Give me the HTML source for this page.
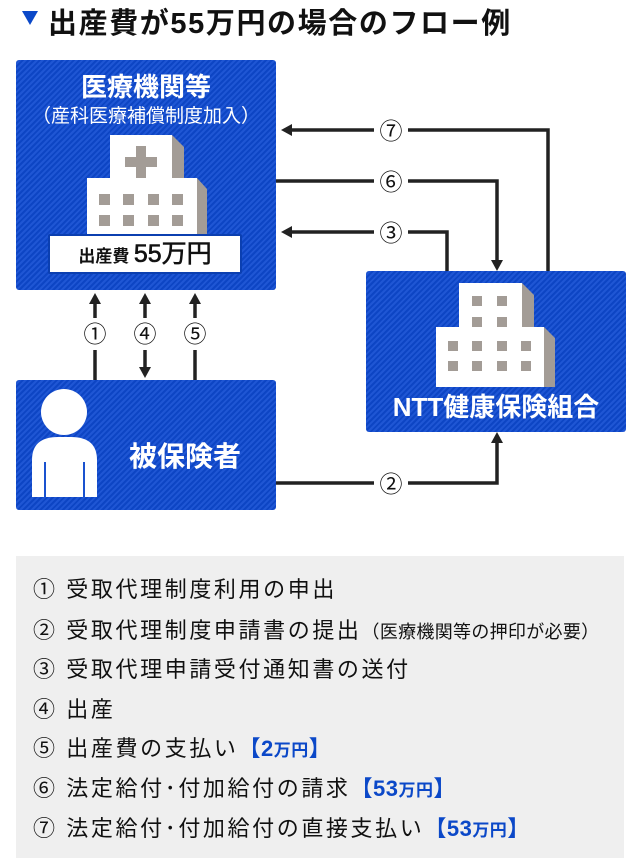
<!DOCTYPE html>
<html><head><meta charset="utf-8"><style>
body{margin:0;width:640px;height:860px;background:#fff;position:relative;overflow:hidden;font-family:"Liberation Sans","Noto Sans CJK JP",sans-serif;}
.box{position:absolute;border-radius:3px;background:repeating-linear-gradient(135deg,#0d45c4 0px,#0d45c4 2px,#1f56d4 2px,#1f56d4 4px);color:#fff;}
.abs{position:absolute;}
.leg{position:absolute;left:16px;top:556px;width:608px;height:302px;background:#efefef;}
.leg div{position:absolute;left:17px;font-size:22px;letter-spacing:2.6px;color:#111;white-space:nowrap;}
.b{color:#0b48c8;font-weight:bold;letter-spacing:0.5px;}
</style></head><body>
<div class="abs" style="left:22px;top:11px;width:0;height:0;border-left:8px solid transparent;border-right:8px solid transparent;border-top:14px solid #0b48c8;"></div>
<div class="abs" style="left:48px;top:0px;font-size:29px;letter-spacing:1.6px;font-weight:bold;color:#111;">出産費が55万円の場合のフロー例</div>

<div class="box" style="left:16px;top:60px;width:260px;height:230px;">
 <div class="abs" style="left:0;width:260px;top:7px;text-align:center;font-size:26px;font-weight:bold;">医療機関等</div>
 <div class="abs" style="left:0;width:260px;top:41px;text-align:center;font-size:19px;">（産科医療補償制度加入）</div>
</div>
<svg class="abs" style="left:0;top:0" width="640" height="860">
 <polygon points="172,135 184,147 184,184 172,184" fill="#a39c96"/>
 <rect x="110" y="135" width="62" height="49" fill="#fff"/>
 <rect x="125" y="157" width="32" height="10" fill="#a39c96"/><rect x="136" y="146" width="10" height="32" fill="#a39c96"/>
 <polygon points="197,178 207,189 207,235 197,235" fill="#a39c96"/>
 <rect x="87" y="178" width="110" height="57" fill="#fff"/>
 <g fill="#a39c96"><rect x="99" y="194" width="11" height="11"/><rect x="123" y="194" width="11" height="11"/><rect x="148" y="194" width="11" height="11"/><rect x="172" y="194" width="11" height="11"/>
 <rect x="99" y="215" width="11" height="11"/><rect x="123" y="215" width="11" height="11"/><rect x="148" y="215" width="11" height="11"/><rect x="172" y="215" width="11" height="11"/></g>
</svg>
<div class="abs" style="left:48px;top:234px;width:190px;height:36px;background:#fff;border:2px solid #0b3fb0;border-radius:2px;text-align:center;line-height:36px;color:#111;font-weight:bold;"><span style="font-size:17px">出産費</span> <span style="font-size:25px;font-weight:normal;-webkit-text-stroke:0.6px #111">55万円</span></div>

<div class="box" style="left:366px;top:271px;width:260px;height:161px;">
 <div class="abs" style="left:0;width:260px;top:116px;text-align:center;font-size:26px;font-weight:bold;">NTT健康保険組合</div>
</div>
<div class="box" style="left:16px;top:380px;width:260px;height:130px;">
 <div class="abs" style="left:113px;top:55px;font-size:28px;font-weight:bold;">被保険者</div>
</div>

<svg class="abs" style="left:0;top:0" width="640" height="860">
 <polygon points="522,283 534,295 534,387 522,387" fill="#a39c96"/>
 <polygon points="544,327 555,338 555,387 544,387" fill="#a39c96"/>
 <rect x="436" y="327" width="108" height="60" fill="#fff"/>
 <rect x="459" y="283" width="63" height="44" fill="#fff"/>
 <g fill="#a39c96"><rect x="472" y="296" width="10" height="10"/><rect x="497" y="296" width="10" height="10"/><rect x="472" y="317" width="10" height="10"/><rect x="497" y="317" width="10" height="10"/>
 <rect x="448" y="341" width="10" height="10"/><rect x="472" y="341" width="10" height="10"/><rect x="497" y="341" width="10" height="10"/><rect x="521" y="341" width="10" height="10"/>
 <rect x="448" y="361" width="10" height="10"/><rect x="472" y="361" width="10" height="10"/><rect x="497" y="361" width="10" height="10"/><rect x="521" y="361" width="10" height="10"/></g>
 <circle cx="64" cy="412" r="23" fill="#fff"/>
 <path d="M32,497 L32,460 Q32,437 58,437 L71,437 Q97,437 97,460 L97,497 Z" fill="#fff"/>
 <line x1="45" y1="462" x2="45" y2="497" stroke="#1a52cf" stroke-width="2"/><line x1="84" y1="462" x2="84" y2="497" stroke="#1a52cf" stroke-width="2"/>
 <g stroke="#222" stroke-width="3.5" fill="none">
  <polyline points="290,130 548,130 548,271"/>
  <polyline points="276,181 497,181 497,262"/>
  <polyline points="290,232 447,232 447,271"/>
  <polyline points="276,483 497,483 497,441"/>
  <line x1="95" y1="300" x2="95" y2="318"/><line x1="95" y1="350" x2="95" y2="380"/>
  <line x1="145" y1="300" x2="145" y2="318"/><line x1="145" y1="350" x2="145" y2="368"/>
  <line x1="195" y1="300" x2="195" y2="318"/><line x1="195" y1="350" x2="195" y2="380"/>
 </g>
 <g fill="#222">
  <polygon points="281,130 292,124 292,136"/>
  <polygon points="281,232 292,226 292,238"/>
  <polygon points="497,271 491,260 503,260"/>
  <polygon points="497,432 491,443 503,443"/>
  <polygon points="95,293 89,304 101,304"/><polygon points="145,293 139,304 151,304"/><polygon points="195,293 189,304 201,304"/>
  <polygon points="145,378 139,367 151,367"/>
 </g>
 <g fill="#fff"><rect x="374" y="118" width="34" height="24"/><rect x="374" y="169" width="34" height="24"/><rect x="374" y="220" width="34" height="24"/><rect x="374" y="471" width="34" height="24"/></g>
 <g font-family="Liberation Sans,Noto Sans CJK JP,sans-serif" font-size="23" fill="#111" text-anchor="middle">
  <text x="391" y="139">⑦</text><text x="391" y="190">⑥</text><text x="391" y="241">③</text><text x="391" y="492">②</text>
  <text x="95" y="342">①</text><text x="145" y="342">④</text><text x="195" y="342">⑤</text>
 </g>
</svg>

<div class="leg">
 <div style="top:16px">① 受取代理制度利用の申出</div>
 <div style="top:57px">② 受取代理制度申請書の提出<span style="font-size:18px;letter-spacing:0.3px">（医療機関等の押印が必要）</span></div>
 <div style="top:96px">③ 受取代理申請受付通知書の送付</div>
 <div style="top:136px">④ 出産</div>
 <div style="top:175px">⑤ 出産費の支払い<span class="b">【2<span style="font-size:17px">万円</span>】</span></div>
 <div style="top:215px">⑥ 法定給付･付加給付の請求<span class="b">【53<span style="font-size:17px">万円</span>】</span></div>
 <div style="top:255px">⑦ 法定給付･付加給付の直接支払い<span class="b">【53<span style="font-size:17px">万円</span>】</span></div>
</div>
</body></html>
